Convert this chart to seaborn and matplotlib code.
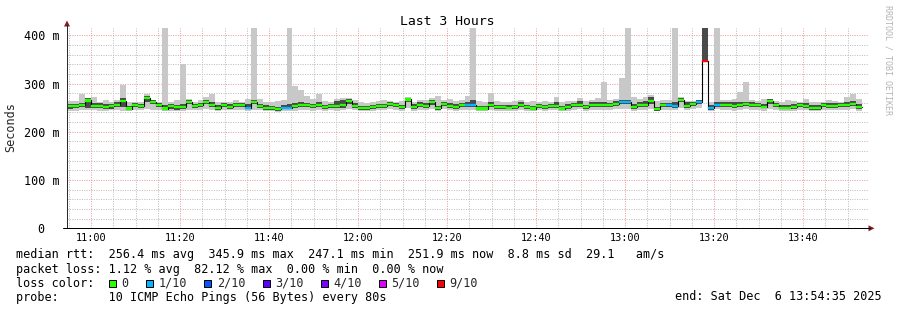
import numpy as np
import pandas as pd
import matplotlib
matplotlib.use("Agg")
import matplotlib.pyplot as plt
from matplotlib.patches import Rectangle, Polygon
from matplotlib.lines import Line2D
import seaborn as sns

# ---------------- data ----------------
step_min = 80 / 60.0  # one probe round every 80 s, x axis in minutes since 10:54:35

median = [253, 253, 255, 265, 254, 254, 252, 253, 256, 264,
          248, 255, 253, 270, 261, 255, 248, 254, 252, 252,
          262, 253, 256, 262, 256, 249, 255, 252, 256, 256,
          250, 262, 253, 250, 249, 247.5, 250, 250, 253, 255,
          255, 253, 256, 251, 253, 253, 255, 263, 254, 249,
          249, 251, 253, 254, 258, 255, 251, 267, 252, 255,
          254, 262, 249, 258, 254, 252, 255, 256, 256, 248,
          248, 255, 251, 251, 250, 251, 256, 251, 248, 253,
          251, 253, 253, 248, 251, 255, 256, 251, 256, 255,
          256, 255, 258, 262, 262, 251, 255, 256, 263, 247.1,
          255, 255, 254, 266, 253, 257, 262, 345.9, 249, 256,
          256, 256, 253, 256, 257, 256, 256, 252, 263, 255,
          250, 250, 251, 255, 254, 249, 249, 255, 254, 254,
          255, 256, 258, 251.9]

loss = [0] * 134
for i in [30, 36, 37, 67, 68, 93, 94, 101, 102, 106, 108, 109]:
    loss[i] = 1
loss[107] = 9

smoke_max = [263, 264, 278, 269, 273, 262, 265, 262, 265, 296,
             261, 262, 261, 279, 265, 262, 415, 262, 265, 340,
             268, 262, 265, 272, 279, 262, 261, 261, 265, 262,
             268, 415, 267, 261, 262, 264, 266, 415, 294, 286,
             275, 268, 279, 263, 262, 268, 270, 270, 265, 262,
             260, 261, 263, 265, 264, 262, 263, 272, 262, 266,
             266, 270, 275, 266, 268, 264, 265, 275, 415, 263,
             262, 280, 264, 262, 262, 263, 266, 262, 263, 262,
             264, 262, 272, 262, 264, 264, 270, 263, 265, 270,
             303, 266, 268, 311, 415, 272, 268, 272, 276, 264,
             266, 265, 415, 272, 264, 264, 265, 415, 262, 415,
             266, 266, 268, 282, 303, 266, 264, 268, 266, 263,
             262, 265, 264, 262, 268, 262, 262, 262, 266, 264,
             262, 272, 278, 268]

smoke_min = [243, 244, 245, 246, 245, 244, 243, 245, 246, 244,
             242, 246, 245, 247, 246, 245, 242, 243, 244, 244,
             246, 245, 246, 247, 246, 243, 246, 245, 246, 246,
             244, 246, 245, 243, 243, 241, 244, 244, 244, 246,
             245, 244, 246, 244, 245, 244, 245, 248, 245, 243,
             243, 244, 245, 246, 248, 246, 244, 249, 244, 246,
             245, 247, 243, 247, 245, 244, 246, 245, 245, 243,
             242, 246, 244, 244, 243, 244, 246, 244, 242, 245,
             244, 245, 245, 242, 244, 246, 247, 244, 246, 246,
             246, 246, 248, 248, 247, 244, 246, 246, 248, 242,
             246, 246, 245, 249, 245, 247, 249, 345.9, 244, 247,
             246, 246, 244, 246, 247, 246, 246, 244, 248, 246,
             243, 243, 244, 246, 245, 243, 243, 246, 245, 245,
             246, 246, 248, 244]

core_lo = [248, 249, 251, 249, 250, 250, 248, 248, 252, 252,
           245, 251, 249, 262, 257, 251, 245, 247, 246, 248,
           257, 249, 252, 258, 252, 246, 251, 248, 252, 252,
           248, 257, 249, 246, 245, 244, 247, 247, 249, 251,
           251, 249, 252, 248, 249, 249, 250, 257, 250, 246,
           246, 247, 249, 250, 254, 251, 248, 262, 248, 251,
           250, 256, 246, 253, 250, 248, 251, 252, 252, 245,
           245, 251, 248, 248, 247, 248, 252, 248, 245, 249,
           248, 249, 249, 245, 248, 251, 252, 248, 252, 251,
           252, 251, 254, 257, 258, 248, 251, 252, 257, 244,
           251, 251, 250, 261, 249, 253, 257, 345.9, 246, 252,
           252, 252, 249, 252, 253, 252, 252, 249, 258, 251,
           247, 247, 248, 251, 250, 246, 246, 251, 250, 250,
           251, 252, 254, 248]

core_hi = [258, 257, 260, 269, 259, 259, 257, 258, 261, 270,
           253, 259, 257, 274, 265, 259, 255, 258, 256, 258,
           265, 258, 260, 266, 261, 255, 260, 257, 260, 260,
           257, 266, 258, 255, 254, 252, 256, 258, 259, 261,
           260, 258, 261, 256, 258, 264, 266, 268, 259, 254,
           253, 256, 258, 258, 262, 260, 256, 270, 257, 262,
           260, 266, 254, 262, 259, 257, 260, 262, 265, 253,
           253, 261, 256, 256, 255, 256, 261, 256, 254, 258,
           256, 258, 262, 253, 257, 260, 264, 256, 261, 261,
           262, 260, 263, 266, 266, 257, 261, 264, 272, 252,
           260, 260, 262, 270, 262, 261, 265, 415, 255, 262,
           261, 261, 262, 261, 262, 261, 260, 258, 267, 260,
           255, 256, 257, 260, 260, 255, 255, 260, 260, 259,
           260, 262, 264, 258]

loss_colors = {0: "#26ff00", 1: "#00b8ff", 2: "#0059ff", 3: "#5e00ff",
               4: "#7e00ff", 5: "#dd00ff", 9: "#ff0000"}
loss_labels = ["0", "1/10", "2/10", "3/10", "4/10", "5/10", "9/10"]
loss_keys = [0, 1, 2, 3, 4, 5, 9]

x_tick_labels = ["11:00", "11:20", "11:40", "12:00", "12:20", "12:40", "13:00", "13:20", "13:40"]
y_tick_values = [0, 100, 200, 300, 400]
y_tick_labels = ["0  ", "100 m", "200 m", "300 m", "400 m"]

legend_lines = [
    "median rtt:  256.4 ms avg  345.9 ms max  247.1 ms min  251.9 ms now  8.8 ms sd  29.1   am/s",
    "packet loss: 1.12 % avg  82.12 % max  0.00 % min  0.00 % now",
    "loss color:",
    "probe:       10 ICMP Echo Pings (56 Bytes) every 80s",
]
end_text = "end: Sat Dec  6 13:54:35 2025"
title = "Last 3 Hours"
ylabel = "Seconds"
watermark = "RRDTOOL / TOBI OETIKER"

# ---------------- figure ----------------
sns.set_theme(style="white")
plt.rcParams['font.family'] = ['DejaVu Sans Mono', 'DejaVu Sans']
plt.rcParams['axes.linewidth'] = 0.72

W, H = 897, 310
fig = plt.figure(figsize=(W / 100, H / 100), dpi=100)
fig.patch.set_facecolor("white")

def fx(x):
    return x / W

def fy(y):
    return 1 - y / H

ax_left, ax_right, ax_bottom, ax_top = 67, 868, 228.3, 28
ax = fig.add_axes([fx(ax_left), fy(ax_bottom), (ax_right - ax_left) / W, (ax_bottom - ax_top) / H])
ax.set_facecolor("white")
ax.set_xlim(0, 180)
ax.set_ylim(0, 415)

n = len(median)
t = np.arange(n) * step_min
t_edges = np.arange(n + 1) * step_min

def ext(a):
    a = list(a)
    return np.array(a + [a[-1]], dtype=float)

# grid
off = 5 + 25 / 60.0  # 11:00 relative to 10:54:35
minor_x = [off - 5 + 5 * k for k in range(37)]
major_x = [off + 20 * k for k in range(9)]
grid_minor = dict(color="#bdbdbd", lw=0.72, ls=(0, (1, 1.4)), zorder=0.5)
grid_major = dict(color="#f09a9a", lw=0.72, ls=(0, (1, 1.4)), zorder=0.6)
for m in minor_x:
    if 0 < m < 180 and all(abs(m - M) > 0.1 for M in major_x):
        ax.axvline(m, **grid_minor)
for M in major_x:
    ax.axvline(M, **grid_major)
for v in range(20, 415, 20):
    if v % 100:
        ax.axhline(v, **grid_minor)
for v in [100, 200, 300, 400]:
    ax.axhline(v, **grid_major)

# smoke
ax.fill_between(t_edges, ext(smoke_min), ext(smoke_max), step="post",
                color="#c8c8c8", lw=0, zorder=1)
ax.fill_between(t_edges, ext(core_lo), ext(core_hi), step="post",
                color="#4a4a4a", lw=0, zorder=2)

# median black step line
df = pd.DataFrame({"t": t_edges, "median": ext(median)})
sns.lineplot(data=df, x="t", y="median", drawstyle="steps-post", color="black",
             lw=0.8, ax=ax, zorder=3, sort=False, estimator=None)

# loss-coloured median band
band = 2.3
for k in loss_keys:
    idx = [i for i in range(n) if loss[i] == k]
    if not idx:
        continue
    ax.bar([t[i] for i in idx], [2 * band] * len(idx),
           bottom=[median[i] - band for i in idx], width=step_min, align="edge",
           color=loss_colors[k], edgecolor=loss_colors[k], lw=0.2, zorder=4)

# axes styling
for s in ["top", "right"]:
    ax.spines[s].set_visible(False)
ax.spines["left"].set_color("#2c2c2c")
ax.spines["bottom"].set_color("#000000")
ax.set_xticks(major_x)
ax.set_xticklabels(x_tick_labels, fontsize=7.35)
ax.set_xticks([m for m in minor_x if 0 < m < 180], minor=True)
ax.set_yticks(y_tick_values)
ax.set_yticklabels(y_tick_labels, fontsize=8.5)
ax.set_yticks(list(range(20, 415, 20)), minor=True)
ax.tick_params(axis="x", which="major", direction="out", length=2.5, width=0.72, pad=1.2, colors="black")
ax.tick_params(axis="x", which="minor", direction="out", length=1.5, width=0.72, colors="black")
ax.tick_params(axis="y", which="major", direction="out", length=2.2, width=0.72, pad=3.0, colors="black")
ax.tick_params(axis="y", which="minor", direction="out", length=1.4, width=0.72, colors="black")
ax.set_xlabel("")
ax.set_ylabel("")

# axis lines and arrows
fig.add_artist(Line2D([fx(67), fx(67)], [fy(228.3), fy(25)], color="#2c2c2c", lw=0.72))
fig.add_artist(Line2D([fx(63), fx(870)], [fy(228.3), fy(228.3)], color="black", lw=0.72))
fig.add_artist(Polygon([[fx(64), fy(26.5)], [fx(70), fy(26.5)], [fx(67), fy(20.5)]],
                       closed=True, color="#7f1f1f", lw=0))
fig.add_artist(Polygon([[fx(868.5), fy(225.3)], [fx(868.5), fy(231.3)], [fx(874.5), fy(228.3)]],
                       closed=True, color="#7f1f1f", lw=0))

# texts
fig.text(fx(447.5), fy(25), title, ha="center", va="baseline", fontsize=9.45, color="black")
fig.text(fx(11), fy(127.5), ylabel, rotation=90, ha="center", va="center", fontsize=8.5)
fig.text(fx(887.5), fy(60), watermark, rotation=270, ha="center", va="center",
         fontsize=6.0, color="#b4b4b4")

baselines = [258.3, 272.5, 286.6, 300.5]
for line, yb in zip(legend_lines, baselines):
    fig.text(fx(15.5), fy(yb), line, ha="left", va="baseline", fontsize=8.5, color="black")
fig.text(fx(881.5), fy(baselines[3]), end_text, ha="right", va="baseline", fontsize=8.5, color="black")

sq_x = [108.5, 146, 204, 262.5, 320.5, 378.5, 436.5]
for xs, k, lab in zip(sq_x, loss_keys, loss_labels):
    fig.add_artist(Rectangle((fx(xs), fy(baselines[2] + 0.2)), 7 / W, 7.2 / H,
                             facecolor=loss_colors[k], edgecolor="black", lw=0.72))
    fig.text(fx(xs + 13), fy(baselines[2]), lab, ha="left", va="baseline", fontsize=8.5)

fig.savefig("out.png", dpi=100, facecolor="white")
